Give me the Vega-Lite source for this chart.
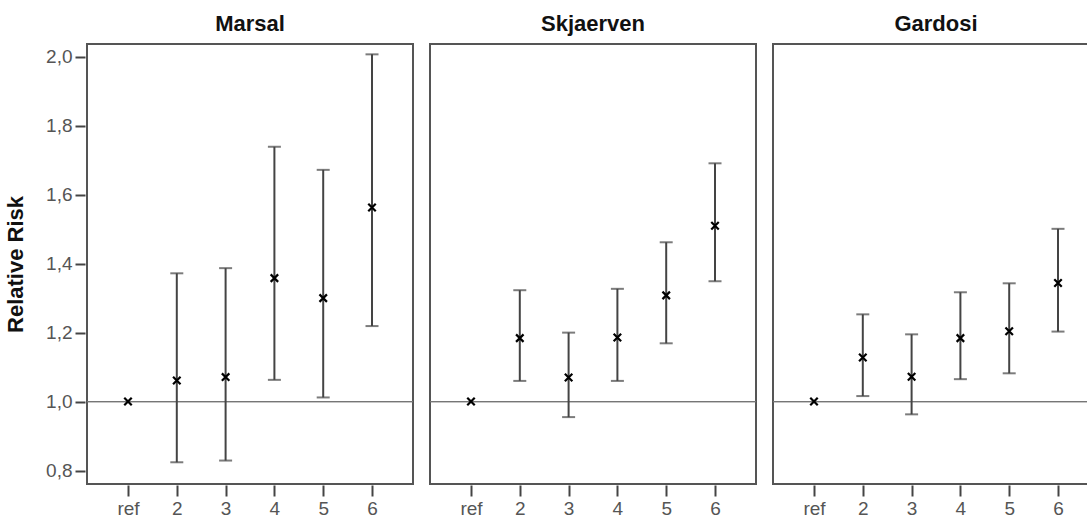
{
  "$schema": "https://vega.github.io/schema/vega-lite/v6.json",
  "padding": {"left": 4, "top": 13, "right": 0, "bottom": 0},
  "background": "#ffffff",
  "data": {"values": [
    {"study": "Marsal", "group": "ref", "rr": 1.0, "lower": null, "upper": null},
    {"study": "Marsal", "group": "2", "rr": 1.061, "lower": 0.824, "upper": 1.372},
    {"study": "Marsal", "group": "3", "rr": 1.071, "lower": 0.829, "upper": 1.387},
    {"study": "Marsal", "group": "4", "rr": 1.358, "lower": 1.063, "upper": 1.739},
    {"study": "Marsal", "group": "5", "rr": 1.300, "lower": 1.012, "upper": 1.672},
    {"study": "Marsal", "group": "6", "rr": 1.563, "lower": 1.219, "upper": 2.007},
    {"study": "Skjaerven", "group": "ref", "rr": 1.0, "lower": null, "upper": null},
    {"study": "Skjaerven", "group": "2", "rr": 1.184, "lower": 1.060, "upper": 1.323},
    {"study": "Skjaerven", "group": "3", "rr": 1.070, "lower": 0.955, "upper": 1.200},
    {"study": "Skjaerven", "group": "4", "rr": 1.186, "lower": 1.060, "upper": 1.327},
    {"study": "Skjaerven", "group": "5", "rr": 1.308, "lower": 1.169, "upper": 1.462},
    {"study": "Skjaerven", "group": "6", "rr": 1.510, "lower": 1.349, "upper": 1.691},
    {"study": "Gardosi", "group": "ref", "rr": 1.0, "lower": null, "upper": null},
    {"study": "Gardosi", "group": "2", "rr": 1.128, "lower": 1.016, "upper": 1.253},
    {"study": "Gardosi", "group": "3", "rr": 1.072, "lower": 0.963, "upper": 1.195},
    {"study": "Gardosi", "group": "4", "rr": 1.184, "lower": 1.065, "upper": 1.317},
    {"study": "Gardosi", "group": "5", "rr": 1.204, "lower": 1.082, "upper": 1.343},
    {"study": "Gardosi", "group": "6", "rr": 1.344, "lower": 1.203, "upper": 1.501}
  ]},
  "spacing": 13,
  "facet": {
    "column": {
      "field": "study", "type": "nominal",
      "sort": ["Marsal", "Skjaerven", "Gardosi"],
      "header": {"title": null, "labelFontSize": 22, "labelFontWeight": "bold", "labelColor": "#111111", "labelFont": "Liberation Sans", "labelPadding": 7}
    }
  },
  "spec": {
    "width": 326,
    "height": 440,
    "layer": [
      {
        "mark": {"type": "rule", "color": "#777777", "strokeWidth": 1},
        "encoding": {
          "y": {"datum": 1, "type": "quantitative",
            "scale": {"domain": [0.761, 2.037], "nice": false, "zero": false},
            "axis": {"title": "Relative Risk", "values": [0.8, 1.0, 1.2, 1.4, 1.6, 1.8, 2.0],
              "labelExpr": "replace(format(datum.value, '.1f'), '.', ',')",
              "domain": false, "grid": false, "tickSize": 10, "tickWidth": 2, "tickColor": "#444444",
              "labelFontSize": 19, "labelColor": "#555555", "labelFont": "Liberation Sans", "labelPadding": 3,
              "titleFontSize": 22, "titleFont": "Liberation Sans", "titleFontWeight": "bold", "titleColor": "#111111", "titlePadding": 18}}
        }
      },
      {
        "mark": {"type": "rule", "color": "#444444", "strokeWidth": 2},
        "encoding": {
          "x": {"field": "group", "type": "ordinal", "sort": ["ref", "2", "3", "4", "5", "6"],
            "scale": {"type": "point", "padding": 0.84},
            "axis": {"title": null, "labelAngle": 0, "domain": false, "tickSize": 11, "tickWidth": 2, "tickColor": "#444444",
              "labelFontSize": 19, "labelColor": "#555555", "labelFont": "Liberation Sans", "labelPadding": 3}},
          "y": {"field": "lower", "type": "quantitative", "scale": {"domain": [0.761, 2.037], "nice": false, "zero": false}},
          "y2": {"field": "upper"}
        }
      },
      {
        "mark": {"type": "tick", "color": "#444444", "thickness": 2, "size": 13},
        "encoding": {
          "x": {"field": "group", "type": "ordinal", "sort": ["ref", "2", "3", "4", "5", "6"], "scale": {"type": "point", "padding": 0.84}},
          "y": {"field": "lower", "type": "quantitative", "scale": {"domain": [0.761, 2.037], "nice": false, "zero": false}}
        }
      },
      {
        "mark": {"type": "tick", "color": "#444444", "thickness": 2, "size": 13},
        "encoding": {
          "x": {"field": "group", "type": "ordinal", "sort": ["ref", "2", "3", "4", "5", "6"], "scale": {"type": "point", "padding": 0.84}},
          "y": {"field": "upper", "type": "quantitative", "scale": {"domain": [0.761, 2.037], "nice": false, "zero": false}}
        }
      },
      {
        "mark": {"type": "point", "shape": "M-1,-1L1,1M1,-1L-1,1", "size": 56, "filled": false, "stroke": "#000000", "strokeWidth": 2.2, "opacity": 1},
        "encoding": {
          "x": {"field": "group", "type": "ordinal", "sort": ["ref", "2", "3", "4", "5", "6"], "scale": {"type": "point", "padding": 0.84}},
          "y": {"field": "rr", "type": "quantitative", "scale": {"domain": [0.761, 2.037], "nice": false, "zero": false}}
        }
      }
    ]
  },
  "config": {
    "view": {"stroke": "#555555", "strokeWidth": 2},
    "axis": {"labelFont": "Liberation Sans", "titleFont": "Liberation Sans"}
  }
}
